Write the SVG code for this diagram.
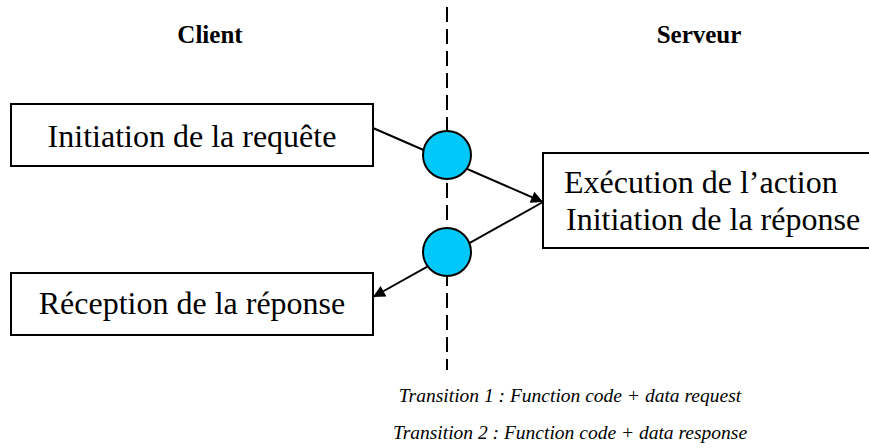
<svg xmlns="http://www.w3.org/2000/svg" width="869" height="448" viewBox="0 0 869 448">
<style>
.box{fill:#fff;stroke:#000;stroke-width:2}
.t{font-family:"Liberation Serif","Times New Roman",serif;font-size:32px;fill:#000}
.h{font-family:"Liberation Serif","Times New Roman",serif;font-size:25px;font-weight:bold;fill:#000;text-anchor:middle}
.n{font-family:"Liberation Serif","Times New Roman",serif;font-size:19.5px;font-style:italic;fill:#000;text-anchor:middle}
.c{fill:#00c8f8;stroke:#000;stroke-width:2}
.ln{stroke:#000;stroke-width:2;fill:none}
</style>
<defs>
<marker id="arr" viewBox="0 0 10 10" refX="10" refY="5" markerWidth="17" markerHeight="12" markerUnits="userSpaceOnUse" orient="auto">
<path d="M0,0 L10,5 L0,10 Z" fill="#000"/>
</marker>
</defs>
<rect width="869" height="448" fill="#fff"/>
<text class="h" x="210" y="43">Client</text>
<text class="h" x="699" y="43">Serveur</text>
<line x1="447" y1="7" x2="447" y2="370" stroke="#000" stroke-width="2" stroke-dasharray="15,7"/>
<g id="connectors">
<line class="ln" x1="373" y1="128" x2="543" y2="202" marker-end="url(#arr)"/>
<line class="ln" x1="543" y1="202" x2="373" y2="297" marker-end="url(#arr)"/>
</g>
<g id="t1"><circle class="c" cx="447" cy="155" r="24"/></g>
<g id="t2"><circle class="c" cx="447" cy="252" r="24"/></g>
<g id="req">
<rect class="box" x="11" y="104" width="362" height="62"/>
<text class="t" x="192" y="147" text-anchor="middle">Initiation de la requête</text>
</g>
<g id="rec">
<rect class="box" x="11" y="273" width="362" height="62"/>
<text class="t" x="192" y="314" text-anchor="middle">Réception de la réponse</text>
</g>
<g id="srv">
<rect class="box" x="543" y="153" width="340" height="95"/>
<text class="t" x="564" y="193">Exécution de l’action</text>
<text class="t" x="566" y="230">Initiation de la réponse</text>
</g>
<text class="n" x="570" y="402">Transition 1 : Function code + data request</text>
<text class="n" x="570" y="439">Transition 2 : Function code + data response</text>
</svg>
